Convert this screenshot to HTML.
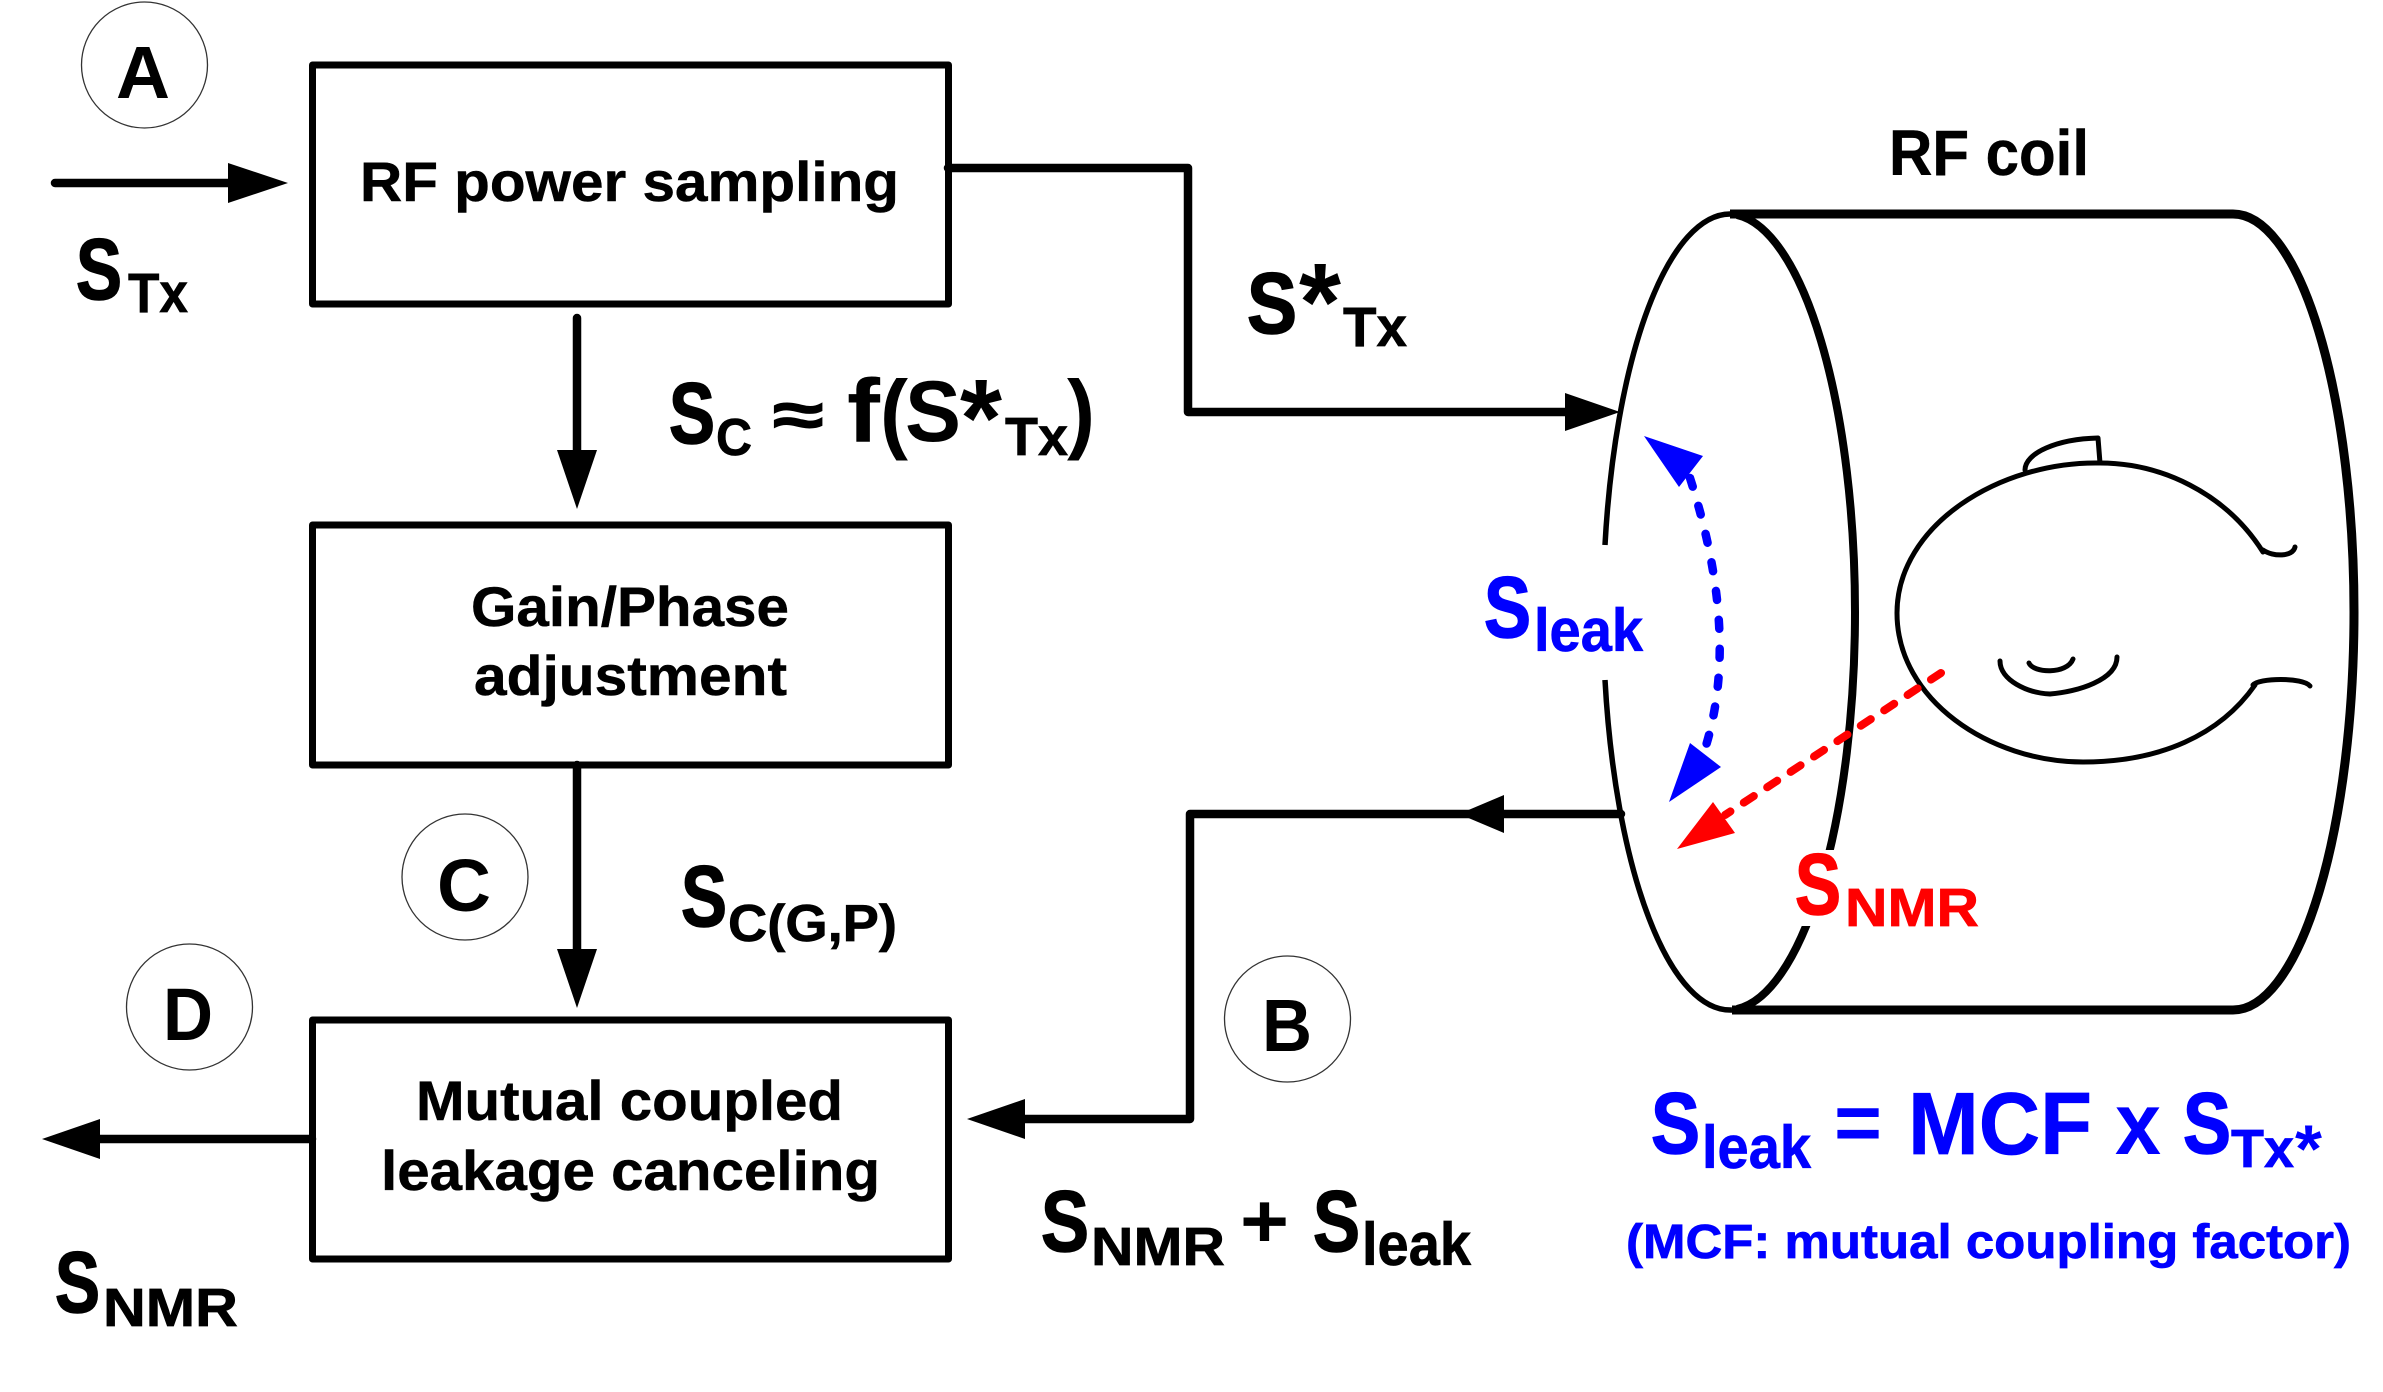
<!DOCTYPE html>
<html><head><meta charset="utf-8">
<style>
html,body{margin:0;padding:0;background:#fff;}
svg{display:block;}
text{font-family:"Liberation Sans",Arial,sans-serif;font-weight:bold;}
.s{stroke-width:1.6;paint-order:stroke;}
.k{stroke:#000;} .b{stroke:#00f;} .r{stroke:#f00;}
.m{stroke-width:.7;}
</style></head>
<body>
<svg xmlns="http://www.w3.org/2000/svg" width="2383" height="1392" viewBox="0 0 2383 1392">
<rect width="2383" height="1392" fill="#fff"/>
<!-- boxes -->
<g fill="none" stroke="#000" stroke-width="7" stroke-linejoin="round">
<rect x="312.5" y="65" width="636" height="239"/>
<rect x="312.5" y="525" width="636" height="240"/>
<rect x="312.5" y="1020" width="636" height="239"/>
</g>
<!-- badges -->
<g fill="#fff" stroke="#333" stroke-width="1.3">
<circle cx="144.5" cy="65" r="63"/>
<circle cx="465" cy="877" r="63"/>
<circle cx="189.5" cy="1007" r="63"/>
<circle cx="1287.5" cy="1019" r="63"/>
</g>
<!-- connectors -->
<g fill="none" stroke="#000" stroke-width="8.5" stroke-linecap="round" stroke-linejoin="round">
<path d="M55 183H232"/>
<path d="M577 318V455"/>
<path d="M577 765V955"/>
<path d="M948 168H1188V412H1570"/>
<path d="M1621 814H1190V1119H1020"/>
<path d="M312 1139H96"/>
</g>
<g fill="#000">
<path d="M288 183L228 163V203Z"/>
<path d="M577 509L557 450H597Z"/>
<path d="M577 1008L557 949H597Z"/>
<path d="M1620 412L1565 393V431Z"/>
<path d="M1459 814L1504 795V833Z"/>
<path d="M967 1119L1025 1099V1139Z"/>
<path d="M42 1139L100 1119V1159Z"/>
</g>
<!-- coil -->
<g fill="none" stroke="#000" stroke-linecap="butt">
<path d="M1730 214H2233A121 398 0 0 1 2233 1010H1732" stroke-width="9"/>
<path d="M1737 215A127 398 0 0 1 1737 1009" stroke-width="8"/>
<path d="M1730 214A127 398 0 0 0 1605 545" stroke-width="5.5"/>
<path d="M1605 680A127 398 0 0 0 1732 1010" stroke-width="5.5"/>
</g>
<rect x="1795" y="850" width="190" height="76" fill="#fff"/>
<!-- head -->
<g fill="none" stroke="#000" stroke-width="5" stroke-linecap="round" stroke-linejoin="round">
<path d="M2263 552C2225 492 2160 463 2100 463C2000 461 1897 525 1897 613C1897 700 1990 762 2083 762C2160 762 2220 735 2255 685"/>
<path d="M2025 470C2025 453 2057 439 2098 438L2100 463"/>
<path d="M2263 550C2273 557 2293 557 2295 547"/>
<path d="M2253 685C2258 678 2303 677 2310 686"/>
<path d="M2000 661C2000 680 2027 693 2050 694C2077 692 2117 680 2117 657"/>
<path d="M2029 663C2033 673 2067 675 2073 659"/>
</g>
<!-- red dashed -->
<path d="M1941 673L1725 815" fill="none" stroke="#f00" stroke-width="8" stroke-linecap="round" stroke-dasharray="12 16"/>
<path d="M1677 849L1713 802L1735 833Z" fill="#f00"/>
<!-- blue dashed -->
<path d="M1690 478Q1742 640 1703 755" fill="none" stroke="#00f" stroke-width="8.5" stroke-linecap="round" stroke-dasharray="9 20"/>
<path d="M1644 436L1703 456L1679 487Z" fill="#00f"/>
<path d="M1669 802L1690 743L1721 767Z" fill="#00f"/>
<!-- box text -->
<g font-size="56" fill="#000" stroke="#000" stroke-width=".5">
<text x="360" y="201" textLength="539" lengthAdjust="spacingAndGlyphs">RF power sampling</text>
<text x="471" y="626" textLength="318" lengthAdjust="spacingAndGlyphs">Gain/Phase</text>
<text x="474" y="695" textLength="313" lengthAdjust="spacingAndGlyphs">adjustment</text>
<text x="416" y="1120" textLength="427" lengthAdjust="spacingAndGlyphs">Mutual coupled</text>
<text x="381" y="1190" textLength="499" lengthAdjust="spacingAndGlyphs">leakage canceling</text>
</g>
<!-- badge letters -->
<g font-size="74" fill="#000">
<text x="116" y="98" textLength="54" lengthAdjust="spacingAndGlyphs">A</text>
<text x="437" y="911" textLength="54" lengthAdjust="spacingAndGlyphs">C</text>
<text x="163" y="1040" textLength="50" lengthAdjust="spacingAndGlyphs">D</text>
<text x="1262" y="1051" textLength="50" lengthAdjust="spacingAndGlyphs">B</text>
</g>
<!-- black labels -->
<g fill="#000">
<text class="s k" x="76" y="299" font-size="86" textLength="46" lengthAdjust="spacingAndGlyphs">S</text>
<text class="m k" x="128" y="312" font-size="56" textLength="60" lengthAdjust="spacingAndGlyphs">Tx</text>

<text class="s k" x="1247" y="333" font-size="86" textLength="50" lengthAdjust="spacingAndGlyphs">S</text>
<text x="1299" y="340" font-size="110" textLength="42" lengthAdjust="spacingAndGlyphs">*</text>
<text class="m k" x="1343" y="346" font-size="56" textLength="64" lengthAdjust="spacingAndGlyphs">Tx</text>

<text class="s k" x="669" y="443" font-size="86" textLength="46" lengthAdjust="spacingAndGlyphs">S</text>
<text class="m k" x="716" y="455" font-size="52" textLength="36" lengthAdjust="spacingAndGlyphs">C</text>
<text class="s k" x="773" y="436" font-size="62" textLength="50" lengthAdjust="spacingAndGlyphs">≈</text>
<text x="847" y="442" font-size="90" textLength="33" lengthAdjust="spacingAndGlyphs">f</text>
<text x="880" y="442" font-size="88" textLength="28" lengthAdjust="spacingAndGlyphs">(</text>
<text x="905" y="441" font-size="86" textLength="56" lengthAdjust="spacingAndGlyphs">S</text>
<text x="960" y="456" font-size="110" textLength="42" lengthAdjust="spacingAndGlyphs">*</text>
<text class="m k" x="1005" y="455" font-size="54" textLength="63" lengthAdjust="spacingAndGlyphs">Tx</text>
<text x="1067" y="442" font-size="88" textLength="28" lengthAdjust="spacingAndGlyphs">)</text>

<text class="s k" x="681" y="926" font-size="86" textLength="46" lengthAdjust="spacingAndGlyphs">S</text>
<text class="m k" x="728" y="941" font-size="52" textLength="169" lengthAdjust="spacingAndGlyphs">C(G,P)</text>

<text class="s k" x="55" y="1312" font-size="86" textLength="45" lengthAdjust="spacingAndGlyphs">S</text>
<text class="m k" x="103" y="1326" font-size="54" textLength="135" lengthAdjust="spacingAndGlyphs">NMR</text>

<text class="s k" x="1041" y="1251" font-size="86" textLength="48" lengthAdjust="spacingAndGlyphs">S</text>
<text class="m k" x="1091" y="1265" font-size="54" textLength="134" lengthAdjust="spacingAndGlyphs">NMR</text>
<text x="1240" y="1247" font-size="76" textLength="49" lengthAdjust="spacingAndGlyphs">+</text>
<text class="s k" x="1313" y="1251" font-size="86" textLength="47" lengthAdjust="spacingAndGlyphs">S</text>
<text class="m k" x="1362" y="1265" font-size="60" textLength="109" lengthAdjust="spacingAndGlyphs">leak</text>

<text x="1889" y="175" font-size="64" textLength="200" lengthAdjust="spacingAndGlyphs" stroke="#000" stroke-width=".5">RF coil</text>
</g>
<!-- blue labels -->
<g fill="#00f">
<text class="s b" x="1484" y="637" font-size="86" textLength="47" lengthAdjust="spacingAndGlyphs">S</text>
<text class="m b" x="1534" y="651" font-size="60" textLength="109" lengthAdjust="spacingAndGlyphs">leak</text>

<text class="s b" x="1651" y="1153" font-size="86" textLength="49" lengthAdjust="spacingAndGlyphs">S</text>
<text class="m b" x="1702" y="1168" font-size="60" textLength="109" lengthAdjust="spacingAndGlyphs">leak</text>
<text x="1834" y="1150" font-size="80" textLength="48" lengthAdjust="spacingAndGlyphs">=</text>
<text x="1908" y="1154" font-size="88" textLength="184" lengthAdjust="spacingAndGlyphs" class="m b">MCF</text>
<text x="2115" y="1154" font-size="88" textLength="46" lengthAdjust="spacingAndGlyphs">x</text>
<text class="s b" x="2183" y="1153" font-size="86" textLength="48" lengthAdjust="spacingAndGlyphs">S</text>
<text class="m b" x="2231" y="1167" font-size="54" textLength="63" lengthAdjust="spacingAndGlyphs">Tx</text>
<text x="2295" y="1172" font-size="68" textLength="27" lengthAdjust="spacingAndGlyphs">*</text>

<text x="1626" y="1258" font-size="48" textLength="725" lengthAdjust="spacingAndGlyphs" class="m b">(MCF: mutual coupling factor)</text>
</g>
<!-- red label -->
<g fill="#f00">
<text class="s r" x="1795" y="914" font-size="86" textLength="46" lengthAdjust="spacingAndGlyphs">S</text>
<text class="m r" x="1845" y="926" font-size="54" textLength="134" lengthAdjust="spacingAndGlyphs">NMR</text>
</g>
</svg>
</body></html>
